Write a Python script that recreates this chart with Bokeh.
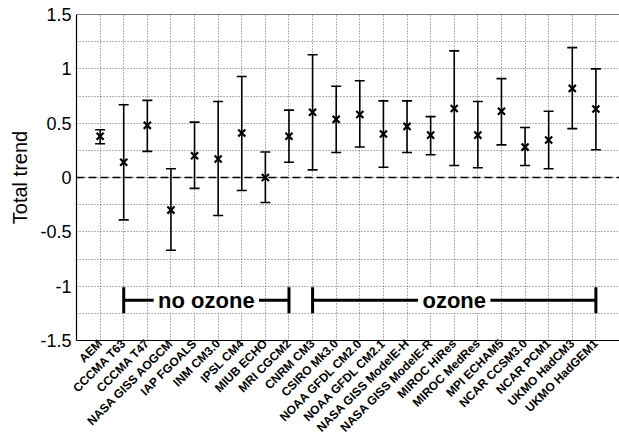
import math
from bokeh.plotting import figure
from bokeh.models import (ColumnDataSource, Whisker, TeeHead, FixedTicker, CustomJSTickFormatter,
                          Span, Label, FactorRange)
from bokeh.embed import file_html
from bokeh.resources import INLINE

models = ["AEM", "CCCMA T63", "CCCMA T47", "NASA GISS AOGCM", "IAP FGOALS", "INM CM3.0",
          "IPSL CM4", "MIUB ECHO", "MRI CGCM2", "CNRM CM3", "CSIRO Mk3.0", "NOAA GFDL CM2.0",
          "NOAA GFDL CM2.1", "NASA GISS ModelE-H", "NASA GISS ModelE-R", "MIROC HiRes",
          "MIROC MedRes", "MPI ECHAM5", "NCAR CCSM3.0", "NCAR PCM1", "UKMO HadCM3", "UKMO HadGEM1"]
trend = [0.38, 0.14, 0.48, -0.30, 0.20, 0.17, 0.41, 0.0, 0.38, 0.60, 0.535, 0.58,
         0.40, 0.47, 0.39, 0.635, 0.39, 0.61, 0.28, 0.345, 0.82, 0.63]
upper = [0.44, 0.67, 0.71, 0.08, 0.51, 0.70, 0.93, 0.235, 0.62, 1.13, 0.84, 0.89,
         0.705, 0.705, 0.56, 1.165, 0.70, 0.91, 0.46, 0.61, 1.195, 1.00]
lower = [0.31, -0.39, 0.24, -0.67, -0.10, -0.35, -0.12, -0.23, 0.14, 0.07, 0.23, 0.28,
         0.095, 0.23, 0.21, 0.11, 0.09, 0.30, 0.11, 0.08, 0.45, 0.255]

y_ticks = [-1.5, -1.0, -0.5, 0.0, 0.5, 1.0, 1.5]
y_minor = [-1.25, -0.75, -0.25, 0.25, 0.75, 1.25]

groups = [("no ozone", "CCCMA T63", "MRI CGCM2"), ("ozone", "CNRM CM3", "UKMO HadGEM1")]
group_y = -1.13

src = ColumnDataSource(dict(x=models, y=trend, upper=upper, lower=lower))

p = figure(width=619, height=442, x_range=FactorRange(*models, range_padding=0.5,
           range_padding_units="absolute"), y_range=(-1.5, 1.5),
           output_backend="svg", toolbar_location=None,
           min_border_left=76, min_border_right=0, min_border_top=14, min_border_bottom=101)
p.outline_line_color = None
p.background_fill_color = "white"
p.border_fill_color = "white"

# axes
p.yaxis.ticker = FixedTicker(ticks=y_ticks, minor_ticks=y_minor)
p.yaxis.formatter = CustomJSTickFormatter(code="return tick.toString()")
p.yaxis.axis_label = "Total trend"
p.yaxis.axis_label_text_font = "Liberation Sans"
p.yaxis.axis_label_text_font_style = "normal"
p.yaxis.axis_label_text_font_size = "20px"
p.yaxis.axis_label_text_color = "black"
p.yaxis.axis_label_standoff = 6
p.yaxis.major_label_text_font = "Liberation Sans"
p.yaxis.major_label_text_font_size = "18px"
p.yaxis.major_label_text_color = "black"
p.yaxis.major_tick_out = 0
p.yaxis.major_tick_in = 0
p.yaxis.minor_tick_out = 0
p.yaxis.minor_tick_in = 0
p.yaxis.major_label_standoff = 5
p.yaxis.axis_line_color = "black"
p.yaxis.axis_line_width = 1.2

p.xaxis.major_label_orientation = math.pi / 4
p.xaxis.major_label_text_font = "Liberation Sans"
p.xaxis.major_label_text_font_style = "bold"
p.xaxis.major_label_text_font_size = "12px"
p.xaxis.major_label_text_color = "black"
p.xaxis.major_tick_out = 0
p.xaxis.major_tick_in = 0
p.xaxis.major_label_standoff = 1
p.xaxis.axis_line_color = "black"
p.xaxis.axis_line_width = 1.2

# grids
for g in (p.xgrid, p.ygrid):
    g.grid_line_color = "#666666"
    g.grid_line_dash = "1 2"
    g.grid_line_width = 1
p.ygrid.minor_grid_line_color = "#666666"
p.ygrid.minor_grid_line_dash = "1 2"

# top border
p.add_layout(Span(location=1.5, dimension="width", line_color="black", line_width=1.2))
# zero line
p.add_layout(Span(location=0, dimension="width", line_color="black", line_width=1.5,
                  line_dash="8 4"))

# error bars
w = Whisker(base="x", upper="upper", lower="lower", source=src,
            line_color="black", line_width=1.6,
            upper_head=TeeHead(size=10, line_color="black", line_width=1.6),
            lower_head=TeeHead(size=10, line_color="black", line_width=1.6))
p.add_layout(w)
p.scatter("x", "y", source=src, marker="x", size=10, line_color="black", line_width=2.2)

# group brackets
for name, a, b in groups:
    p.segment(x0=[a], y0=[group_y], x1=[b], y1=[group_y], line_color="black", line_width=3)
    p.segment(x0=[a, b], y0=[group_y - 0.12, group_y - 0.12], x1=[a, b],
              y1=[group_y + 0.12, group_y + 0.12], line_color="black", line_width=3)
    ia, ib = models.index(a), models.index(b)
    p.add_layout(Label(x=(ia + ib) / 2 + 0.5, y=group_y, x_units="data",
                       text="\u2009" + name + "\u2009",
                       text_font="Liberation Sans", text_font_style="bold",
                       text_font_size="22px", text_align="center", text_baseline="middle",
                       background_fill_color="white", text_color="black"))

open("out.html", "w").write(file_html(p, INLINE))
